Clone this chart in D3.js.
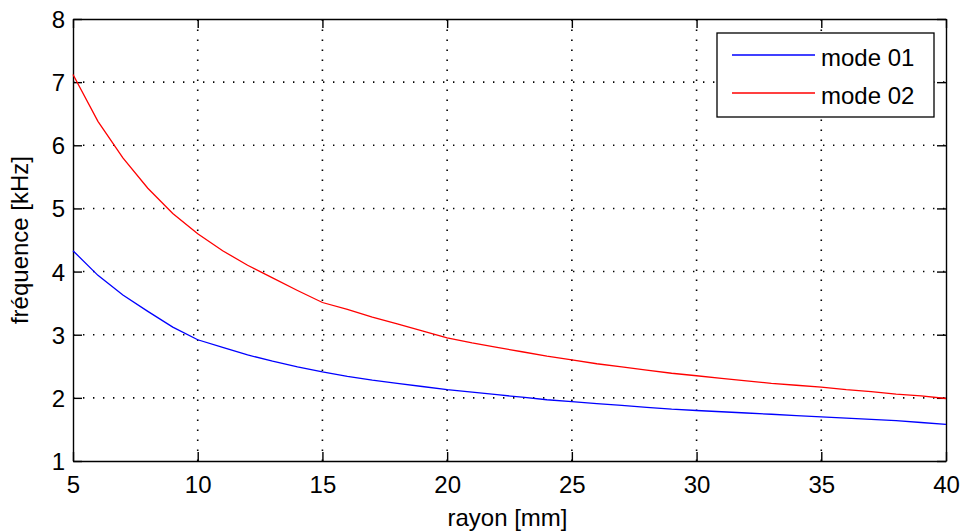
<!DOCTYPE html>
<html>
<head>
<meta charset="utf-8">
<script src="https://cdn.jsdelivr.net/npm/d3@7"></script>
<style>
  html, body { margin: 0; padding: 0; background: #fff; }
  svg { display: block; }
  text { font-family: "Liberation Sans", Arial, sans-serif; fill: #000; }
</style>
</head>
<body>
<svg id="chart" width="960" height="532"></svg>
<script>
// ---- data ----
const rayon = [5,6,7,8,9,10,11,12,13,14,15,16,17,18,19,20,21,22,23,24,25,26,27,28,29,30,31,32,33,34,35,36,37,38,39,40];
const mode01 = [4.33,3.94,3.63,3.37,3.12,2.92,2.80,2.68,2.58,2.49,2.41,2.34,2.28,2.23,2.18,2.13,2.09,2.05,2.01,1.97,1.94,1.91,1.88,1.85,1.82,1.80,1.78,1.76,1.74,1.72,1.70,1.68,1.66,1.64,1.61,1.58];
const mode02 = [7.12,6.38,5.80,5.32,4.92,4.60,4.33,4.10,3.90,3.70,3.51,3.40,3.28,3.17,3.06,2.95,2.87,2.80,2.73,2.66,2.60,2.54,2.49,2.44,2.39,2.35,2.31,2.27,2.23,2.20,2.17,2.13,2.10,2.06,2.03,1.99];
const xTicks = [5,10,15,20,25,30,35,40];
const yTicks = [1,2,3,4,5,6,7,8];
const seriesNames = ["mode 01", "mode 02"];
const seriesColors = ["#0000ff", "#ff0000"];
const xLabel = "rayon [mm]";
const yLabel = "fréquence [kHz]";

// ---- layout ----
const L = 73, R = 946, T = 19, B = 461;
const svg = d3.select("#chart");
const x = d3.scaleLinear().domain([5, 40]).range([L, R]);
const y = d3.scaleLinear().domain([1, 8]).range([B, T]);
const FS = 24;

// grid
const grid = svg.append("g");
grid.selectAll("line.gx").data(xTicks.filter(d => d > 5 && d < 40)).enter().append("line")
  .attr("x1", d => x(d)).attr("x2", d => x(d)).attr("y1", B).attr("y2", T)
  .attr("stroke", "#000").attr("stroke-width", 1.6).attr("stroke-dasharray", "1.4 8.6");
grid.selectAll("line.gy").data(yTicks.filter(d => d > 1 && d < 8)).enter().append("line")
  .attr("x1", L).attr("x2", R).attr("y1", d => y(d)).attr("y2", d => y(d))
  .attr("stroke", "#000").attr("stroke-width", 1.6).attr("stroke-dasharray", "1.4 8.6");

// axes with inward ticks (all four sides)
const tl = 9;
const xb = svg.append("g").attr("transform", `translate(0,${B})`)
  .call(d3.axisBottom(x).tickValues(xTicks).tickSizeInner(-tl).tickSizeOuter(0).tickPadding(14).tickFormat(d3.format("d")));
const xt = svg.append("g").attr("transform", `translate(0,${T})`)
  .call(d3.axisTop(x).tickValues(xTicks).tickSizeInner(-tl).tickSizeOuter(0).tickFormat(""));
const yl = svg.append("g").attr("transform", `translate(${L},0)`)
  .call(d3.axisLeft(y).tickValues(yTicks).tickSizeInner(-tl).tickSizeOuter(0).tickPadding(17).tickFormat(d3.format("d")));
const yr = svg.append("g").attr("transform", `translate(${R},0)`)
  .call(d3.axisRight(y).tickValues(yTicks).tickSizeInner(-tl).tickSizeOuter(0).tickFormat(""));
[xb, xt, yl, yr].forEach(g => {
  g.selectAll(".domain").attr("stroke", "#000").attr("stroke-width", 1.4);
  g.selectAll(".tick line").attr("stroke", "#000").attr("stroke-width", 1.4);
  g.selectAll(".tick text").attr("font-size", FS).attr("font-family", "Liberation Sans, Arial, sans-serif").attr("fill", "#000");
});
xb.selectAll(".tick text").attr("dy", null).attr("y", 32);
yl.selectAll(".tick text").attr("dy", null).attr("y", 8.5).attr("x", -8);

// series
const line = d3.line().x((d, i) => x(rayon[i])).y(d => y(d));
[mode01, mode02].forEach((s, k) => {
  svg.append("path").datum(s).attr("d", line)
    .attr("fill", "none").attr("stroke", seriesColors[k]).attr("stroke-width", 1.3);
});

// axis labels
svg.append("text").attr("x", (L + R) / 2 - 2).attr("y", 526).attr("text-anchor", "middle")
  .attr("font-size", FS).text(xLabel);
svg.append("text").attr("transform", `translate(28,${(T + B) / 2}) rotate(-90)`)
  .attr("text-anchor", "middle").attr("font-size", FS).text(yLabel);

// legend
const lg = svg.append("g");
lg.append("rect").attr("x", 717).attr("y", 33).attr("width", 217).attr("height", 84)
  .attr("fill", "#fff").attr("stroke", "#000").attr("stroke-width", 1.3);
const legY = [55, 93];
seriesNames.forEach((n, k) => {
  lg.append("line").attr("x1", 732).attr("x2", 815).attr("y1", legY[k]).attr("y2", legY[k])
    .attr("stroke", seriesColors[k]).attr("stroke-width", 1.3);
  lg.append("text").attr("x", 821).attr("y", legY[k] + 11).attr("font-size", FS).text(n);
});
</script>
</body>
</html>
